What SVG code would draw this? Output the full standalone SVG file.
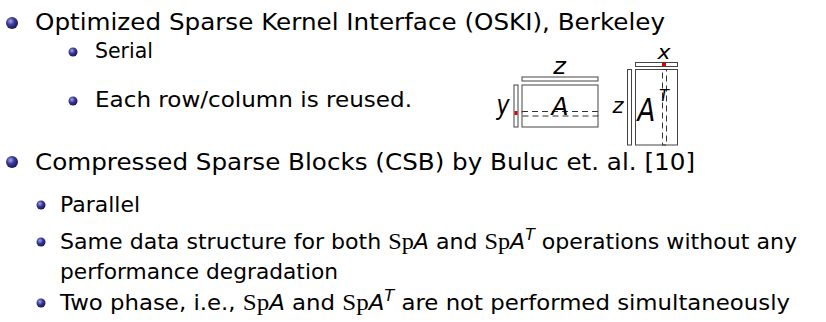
<svg xmlns="http://www.w3.org/2000/svg" width="826" height="322" viewBox="0 0 826 322">
<defs>
<radialGradient id="ball" cx="0.38" cy="0.35" r="0.7">
<stop offset="0" stop-color="#a8a8e8"/>
<stop offset="0.45" stop-color="#3a3a9a"/>
<stop offset="1" stop-color="#14144a"/>
</radialGradient>
<style>
.t{font-family:"DejaVu Sans","Liberation Sans",sans-serif;fill:#000}
.m{font-size:22.5px}
.s{font-size:21px}
.rm{font-family:"Liberation Serif","DejaVu Serif",serif}
.it{font-style:italic}
.lbl{font-family:"DejaVu Sans","Liberation Sans",sans-serif;font-style:italic;fill:#000;text-anchor:middle}
.box{fill:#fff;stroke:#444;stroke-width:1}
.dash{fill:none;stroke:#333;stroke-width:1;stroke-dasharray:6 4}
.red{fill:#e00000}
</style>
</defs>
<g id="bullets">
<circle cx="12" cy="23" r="6" fill="url(#ball)"/>
<circle cx="73" cy="52" r="4.5" fill="url(#ball)"/>
<circle cx="73" cy="101" r="4.5" fill="url(#ball)"/>
<circle cx="12" cy="162" r="6" fill="url(#ball)"/>
<circle cx="41" cy="205" r="4.5" fill="url(#ball)"/>
<circle cx="41" cy="242" r="4.5" fill="url(#ball)"/>
<circle cx="41" cy="303" r="4.5" fill="url(#ball)"/>
</g>
<g id="text">
<text class="t m" x="35" y="30" textLength="630" lengthAdjust="spacingAndGlyphs">Optimized Sparse Kernel Interface (OSKI), Berkeley</text>
<text class="t s" x="95" y="58" textLength="58" lengthAdjust="spacingAndGlyphs">Serial</text>
<text class="t s" x="95" y="107" textLength="317" lengthAdjust="spacingAndGlyphs">Each row/column is reused.</text>
<text class="t m" x="35" y="170" textLength="660" lengthAdjust="spacingAndGlyphs">Compressed Sparse Blocks (CSB) by Buluc et. al. [10]</text>
<text class="t s" x="60" y="212" textLength="80" lengthAdjust="spacingAndGlyphs">Parallel</text>
<text class="t s" x="60" y="249" textLength="737" lengthAdjust="spacingAndGlyphs">Same data structure for both <tspan class="rm" font-size="23">Sp</tspan><tspan class="it">A</tspan> and <tspan class="rm" font-size="23">Sp</tspan><tspan class="it">A</tspan><tspan class="it" font-size="15" dy="-9">T</tspan><tspan dy="9"> operations without any</tspan></text>
<text class="t s" x="60" y="279" textLength="278" lengthAdjust="spacingAndGlyphs">performance degradation</text>
<text class="t s" x="60" y="310" textLength="730" lengthAdjust="spacingAndGlyphs">Two phase, i.e., <tspan class="rm" font-size="23">Sp</tspan><tspan class="it">A</tspan> and <tspan class="rm" font-size="23">Sp</tspan><tspan class="it">A</tspan><tspan class="it" font-size="15" dy="-9">T</tspan><tspan dy="9"> are not performed simultaneously</tspan></text>
</g>
<g id="matrixA">
<rect class="box" x="522" y="77" width="76" height="4"/>
<rect class="box" x="522" y="85" width="76" height="42"/>
<rect class="box" x="514" y="85" width="4" height="42"/>
<rect class="red" x="514.5" y="111" width="3" height="4"/>
<rect class="dash" x="522" y="111.5" width="76" height="4.5"/>
<text class="lbl" font-size="24" transform="translate(559.5 74) scale(1 0.95)">z</text>
<text class="lbl" font-size="22" transform="translate(503 114) scale(1 1.2)">y</text>
<text class="lbl" font-size="25" transform="translate(560 115)">A</text>
</g>
<g id="matrixAT">
<rect class="box" x="635.5" y="62.5" width="42" height="4"/>
<rect class="box" x="635.5" y="69.5" width="42" height="75.5"/>
<rect class="box" x="627.5" y="69.5" width="4" height="75.5"/>
<rect class="red" x="662" y="63" width="4" height="3"/>
<rect class="dash" x="662.5" y="69.5" width="4" height="75.5"/>
<text class="lbl" font-size="22" transform="translate(664 58.5) scale(1 0.85)">x</text>
<text class="lbl" font-size="21" transform="translate(618 113)">z</text>
<text class="lbl" font-size="26" transform="translate(646.5 121) scale(1 1.2)">A</text>
<text class="lbl" font-size="16" transform="translate(664 101)">T</text>
</g>
</svg>
